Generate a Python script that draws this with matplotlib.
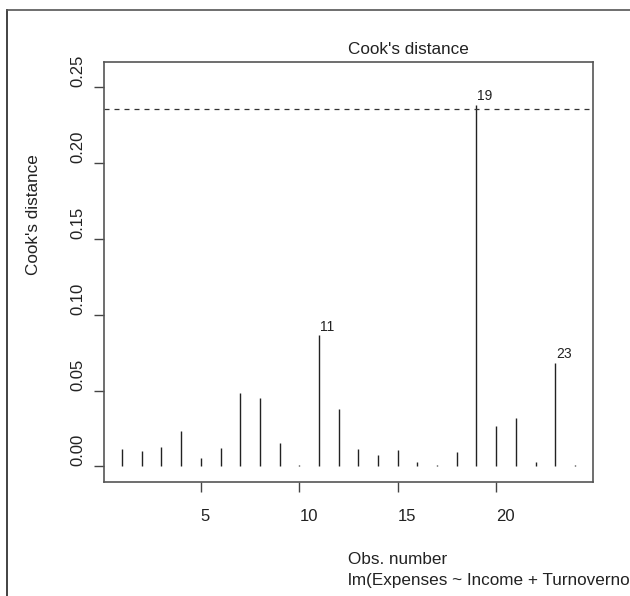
import matplotlib.pyplot as plt
from matplotlib.lines import Line2D

plt.rcParams['font.family'] = ['Liberation Sans', 'DejaVu Sans']

obs = list(range(1, 25))
cooks_d = [0.0115, 0.0100, 0.0128, 0.0231, 0.0056, 0.0121, 0.0487, 0.0449,
           0.0152, 0.0012, 0.0863, 0.0377, 0.0115, 0.0075, 0.0108, 0.0028,
           0.0012, 0.0093, 0.2385, 0.0268, 0.0318, 0.0028, 0.0684, 0.0012]
labelled = [11, 19, 23]
cutoff = 4 / 17
x_ticks = [5, 10, 15, 20]
y_ticks = [0.00, 0.05, 0.10, 0.15, 0.20, 0.25]

W, H = 630, 596
left, right, top, bottom = 104, 593, 62, 482
fig = plt.figure(figsize=(W / 100, H / 100), dpi=100)
ax = fig.add_axes([left / W, 1 - bottom / H, (right - left) / W, (bottom - top) / H])

ax.vlines(obs, 0, cooks_d, color='#222222', lw=1.0)
ax.axhline(cutoff, color='#333333', lw=0.9, ls=(0, (4, 4)))
for i in labelled:
    ax.annotate(str(i), (i, cooks_d[i - 1]), xytext=(0.7, 3), textcoords='offset points',
                fontsize=10, ha='left', va='baseline', color='#222222')

ax.set_xlim(0.08, 24.92)
ax.set_ylim(-0.0103, 0.2666)
ax.set_xticks(x_ticks)
ax.set_xticklabels([str(v) for v in x_ticks], ha='left')
ax.set_yticks(y_ticks)
ax.set_yticklabels(['%.2f' % v for v in y_ticks], rotation=90, va='bottom')
ax.tick_params(direction='out', length=7.2, width=1, color='#444444',
               labelsize=12, labelcolor='#222222')
ax.tick_params(axis='x', pad=12.5)
ax.tick_params(axis='y', pad=6.5)
for s in ax.spines.values():
    s.set_color('#555555')
    s.set_linewidth(1.2)

# R device here ignores horizontal justification: texts start at the anchor
cx = (left + right) / 2 / W
cy = 1 - (top + bottom) / 2 / H
fig.text(cx, 1 - 49 / H, "Cook's distance", fontsize=12.3,
         ha='left', va='center', color='#222222')
fig.text(cx, 1 - 560 / H, 'Obs. number', fontsize=12.3,
         ha='left', va='center', color='#222222')
fig.text(cx, 1 - 581 / H, 'lm(Expenses ~ Income + Turnoverno', fontsize=12.3,
         ha='left', va='center', color='#222222')
fig.text(33 / W, cy - 3 / H, "Cook's distance", fontsize=12.3, rotation=90,
         ha='center', va='bottom', color='#222222')

# outer frame (cut off at the right and bottom)
fig.add_artist(Line2D([7 / W, 7 / W], [0, 1 - 10 / H], color='#222222', lw=1.2))
fig.add_artist(Line2D([7 / W, 1], [1 - 10 / H, 1 - 10 / H], color='#555555', lw=1.2))

fig.savefig('out.png', dpi=100)
